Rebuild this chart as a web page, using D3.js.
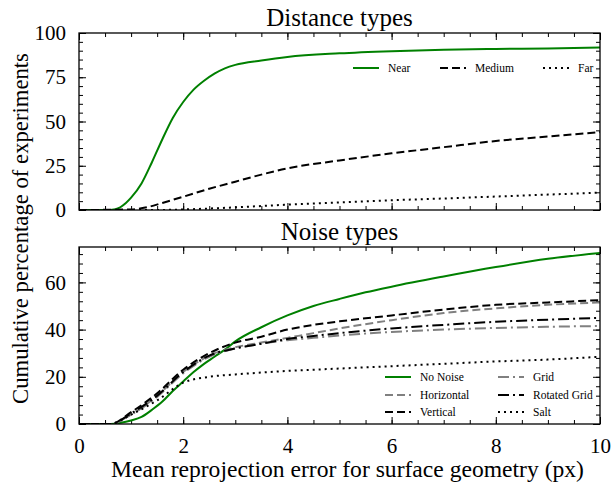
<!DOCTYPE html>
<html>
<head>
<meta charset="utf-8">
<script src="https://cdn.jsdelivr.net/npm/d3@7"></script>
<style>
  body { margin: 0; background: #fff; }
  text { font-family: "Liberation Serif", "Times New Roman", serif; }
</style>
</head>
<body>
<svg id="chart" width="611" height="486"></svg>
<script>
// x positions (px error) sampled per series
const nearX = [0, 0.5, 0.7, 0.9, 1.0, 1.2, 1.4, 1.6, 1.8, 2.0, 2.2, 2.4, 2.6, 2.8, 3.0, 3.5, 4, 5, 6, 7, 8, 9, 10];
const nearY = [0, 0, 0.5, 4, 7, 15, 27, 40, 52, 61, 68, 73, 77, 80, 82, 84.5, 86.5, 88.5, 89.7, 90.5, 91, 91.3, 91.8];
const mediumX = [0, 1.0, 1.3, 1.6, 2, 2.5, 3, 3.5, 4, 5, 6, 7, 8, 9, 10];
const mediumY = [0, 0.3, 1.5, 4, 7.5, 12, 16, 20, 23.5, 28, 32, 35.5, 39, 41.5, 44];
const farX = [0, 1.5, 2, 3, 4, 5, 6, 7, 8, 9, 10];
const farY = [0, 0, 0.3, 1.5, 3, 4.3, 5.5, 6.5, 7.6, 8.7, 9.8];

const noNoiseX = [0, 0.6, 0.8, 1, 1.2, 1.4, 1.6, 1.8, 2, 2.2, 2.4, 2.6, 2.8, 3, 3.5, 4, 4.5, 5, 5.5, 6, 7, 8, 9, 10];
const noNoiseY = [0, 0, 0.5, 1.5, 3, 6, 9.5, 14, 18, 22, 25.5, 28.5, 31.5, 35, 41, 46, 50, 53, 55.8, 58.2, 62.5, 66.5, 70, 72.5];
const noiseX = [0, 0.6, 1, 1.5, 2, 2.5, 3, 3.5, 4, 4.5, 5, 6, 7, 8, 9, 10];
const horizontalY = [0, 0, 4, 12, 22, 29, 32.5, 34.5, 36.5, 38.5, 40.5, 44, 47, 49, 50.5, 51.5];
const verticalY = [0, 0, 5, 13, 23, 30, 34.5, 37, 40, 42, 43.5, 46, 48.5, 50.5, 51.5, 52.5];
const gridY = [0, 0, 4, 11.5, 21.5, 28.5, 32, 34, 35.5, 36.5, 37.5, 39, 40, 40.7, 41.2, 41.5];
const rotatedGridY = [0, 0, 4.5, 12, 22, 29, 32, 34, 36, 37.3, 38.5, 40.5, 42, 43.3, 44.2, 45];
const saltY = [0, 0, 4, 10, 17.5, 20, 21, 21.8, 22.5, 23, 23.5, 24.5, 25.5, 26.5, 27.3, 28.5];

const xTicks = [0, 2, 4, 6, 8, 10];
const topYTicks = [0, 25, 50, 75, 100];
const bottomYTicks = [0, 20, 40, 60];

const FONT = '"Liberation Serif"';
const GREEN = "#008000", GRAY = "#808080", BLACK = "#000";
const DASH = "8,4", DOT = "2,4", DASHDOT = "11,4,2,4";

const topSeries = [
  { name: "Near", xs: nearX, ys: nearY, color: GREEN, dash: null },
  { name: "Medium", xs: mediumX, ys: mediumY, color: BLACK, dash: DASH },
  { name: "Far", xs: farX, ys: farY, color: BLACK, dash: DOT }
];
const bottomSeries = [
  { name: "No Noise", xs: noNoiseX, ys: noNoiseY, color: GREEN, dash: null },
  { name: "Horizontal", xs: noiseX, ys: horizontalY, color: GRAY, dash: DASH },
  { name: "Vertical", xs: noiseX, ys: verticalY, color: BLACK, dash: DASH },
  { name: "Grid", xs: noiseX, ys: gridY, color: GRAY, dash: DASHDOT },
  { name: "Rotated Grid", xs: noiseX, ys: rotatedGridY, color: BLACK, dash: DASHDOT },
  { name: "Salt", xs: noiseX, ys: saltY, color: BLACK, dash: DOT }
];

const left = 79, right = 600;

const svg = d3.select("#chart");

const x = d3.scaleLinear().domain([0, 10]).range([left, right]);
const xMinor = d3.range(0, 10.01, 0.5);

function drawPanel(top, bottom, yMax, yMajor, yMinorStep, title, series, showXLabels) {
  const y = d3.scaleLinear().domain([0, yMax]).range([bottom, top]);
  const g = svg.append("g");
  const yMinor = d3.range(0, yMax + 0.001, yMinorStep);

  // minor ticks
  const minor = (axis, vals) => axis.tickValues(vals).tickSizeInner(-4).tickSizeOuter(0).tickFormat("");
  g.append("g").attr("transform", `translate(0,${bottom})`).call(minor(d3.axisBottom(x), xMinor));
  g.append("g").attr("transform", `translate(0,${top})`).call(minor(d3.axisTop(x), xMinor));
  g.append("g").attr("transform", `translate(${left},0)`).call(minor(d3.axisLeft(y), yMinor));
  g.append("g").attr("transform", `translate(${right},0)`).call(minor(d3.axisRight(y), yMinor));

  // major ticks
  g.append("g").attr("transform", `translate(0,${bottom})`)
    .call(d3.axisBottom(x).tickValues(xTicks).tickSizeInner(-7).tickSizeOuter(0).tickPadding(14)
      .tickFormat(showXLabels ? d3.format("d") : ""));
  g.append("g").attr("transform", `translate(0,${top})`)
    .call(d3.axisTop(x).tickValues(xTicks).tickSizeInner(-7).tickSizeOuter(0).tickFormat(""));
  g.append("g").attr("transform", `translate(${left},0)`)
    .call(d3.axisLeft(y).tickValues(yMajor).tickSizeInner(-7).tickSizeOuter(0).tickPadding(13).tickFormat(d3.format("d")));
  g.append("g").attr("transform", `translate(${right},0)`)
    .call(d3.axisRight(y).tickValues(yMajor).tickSizeInner(-7).tickSizeOuter(0).tickFormat(""));
  g.selectAll(".domain").remove();
  g.selectAll("g").attr("font-family", null).attr("font-size", null);
  g.selectAll(".tick line").attr("stroke", "#000");
  g.selectAll(".tick text").style("font-family", FONT)
    .attr("font-size", 21).attr("fill", "#000");

  // clip + lines
  const clipId = "clip" + top;
  svg.append("clipPath").attr("id", clipId).append("rect")
    .attr("x", left).attr("y", top).attr("width", right - left).attr("height", bottom - top);

  const line = d3.line().x(d => x(d[0])).y(d => y(d[1])).curve(d3.curveMonotoneX);
  g.append("g").attr("clip-path", `url(#${clipId})`)
    .selectAll("path").data(series).join("path")
    .attr("d", s => line(s.xs.map((v, i) => [v, s.ys[i]])))
    .attr("fill", "none")
    .attr("stroke", s => s.color)
    .attr("stroke-width", 2)
    .attr("stroke-dasharray", s => s.dash);

  // frame
  g.append("rect").attr("x", left).attr("y", top)
    .attr("width", right - left).attr("height", bottom - top)
    .attr("fill", "none").attr("stroke", "#000").attr("stroke-width", 1.3);

  g.append("text").attr("x", (left + right) / 2).attr("y", top - 7)
    .attr("text-anchor", "middle").attr("font-size", 25).style("font-family", FONT).text(title);
  return g;
}

const gTop = drawPanel(33, 210, 100, topYTicks, 5, "Distance types", topSeries, false);
const gBot = drawPanel(247, 424, 75, bottomYTicks, 4, "Noise types", bottomSeries, true);

// legends
function legendItem(g, s, lx, ly) {
  g.append("line").attr("x1", lx).attr("x2", lx + 26).attr("y1", ly).attr("y2", ly)
    .attr("stroke", s.color).attr("stroke-width", 2).attr("stroke-dasharray", s.dash);
  g.append("text").attr("x", lx + 35).attr("y", ly).attr("dy", "0.35em")
    .style("font-family", FONT).attr("font-size", 11.5).text(s.name);
}
const topLegendX = [353, 440, 543];
topSeries.forEach((s, i) => legendItem(gTop, s, topLegendX[i], 68));

const botLegendX = [385, 498];
const botLegendY = [377, 395, 412];
bottomSeries.forEach((s, i) => legendItem(gBot, s, botLegendX[Math.floor(i / 3)], botLegendY[i % 3]));

// axis labels
svg.append("text").attr("x", (left + right) / 2 + 8).attr("y", 477)
  .attr("text-anchor", "middle").attr("font-size", 23.6).style("font-family", FONT)
  .text("Mean reprojection error for surface geometry (px)");
svg.append("text").attr("transform", `translate(28,${(33 + 424) / 2}) rotate(-90)`)
  .attr("text-anchor", "middle").attr("font-size", 22.7).style("font-family", FONT)
  .text("Cumulative percentage of experiments");
</script>
</body>
</html>
